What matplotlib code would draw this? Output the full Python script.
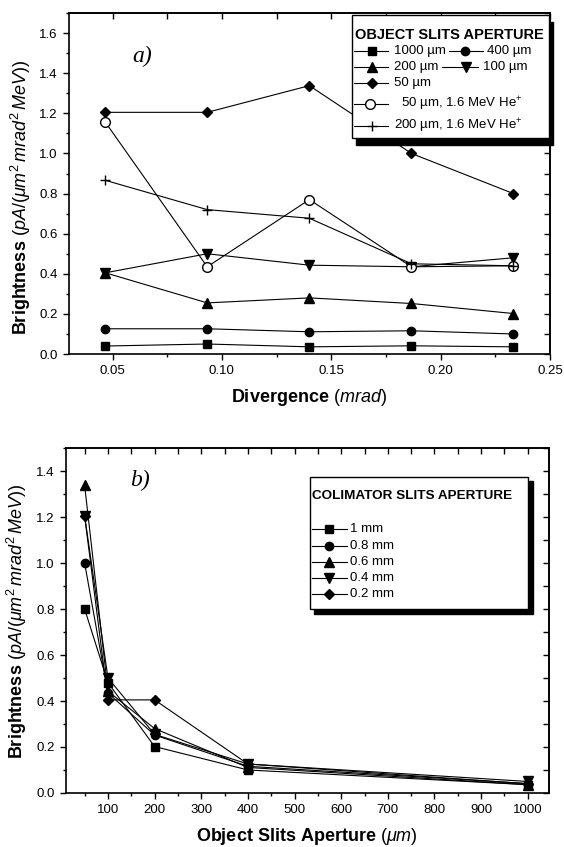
import matplotlib
matplotlib.use("Agg")
import matplotlib.pyplot as plt
from matplotlib.patches import Rectangle
from matplotlib.ticker import MultipleLocator

plt.rcParams['font.family'] = ['Liberation Sans', 'DejaVu Sans']
plt.rcParams['mathtext.fontset'] = 'custom'
plt.rcParams['mathtext.rm'] = 'Liberation Sans'
plt.rcParams['mathtext.it'] = 'Liberation Sans:italic'
plt.rcParams['mathtext.bf'] = 'Liberation Sans:bold'

# panel a) brightness vs divergence, one series per object slit aperture
divergence = [0.0467, 0.0933, 0.14, 0.1867, 0.2333]
a_1000 = [0.040, 0.050, 0.036, 0.041, 0.036]
a_400 = [0.126, 0.126, 0.111, 0.116, 0.100]
a_200 = [0.405, 0.255, 0.280, 0.252, 0.202]
a_100 = [0.405, 0.500, 0.443, 0.435, 0.480]
a_50 = [1.205, 1.205, 1.338, 1.000, 0.800]
a_50_he = [1.156, 0.435, 0.770, 0.435, 0.440]
a_200_he = [0.866, 0.720, 0.677, 0.450, 0.440]

# panel b) brightness vs object slits aperture, one series per colimator slit
aperture = [50, 100, 200, 400, 1000]
b_1mm = [0.800, 0.480, 0.202, 0.100, 0.036]
b_08mm = [1.000, 0.435, 0.252, 0.116, 0.041]
b_06mm = [1.338, 0.443, 0.280, 0.111, 0.036]
b_04mm = [1.205, 0.500, 0.255, 0.126, 0.050]
b_02mm = [1.205, 0.405, 0.405, 0.126, 0.040]

LW = 0.8
LEG_FS = 9.5


def style_axes(ax, xmaj, xmin, ymaj, ymin):
    for s in ax.spines.values():
        s.set_linewidth(1.2)
    ax.xaxis.set_major_locator(MultipleLocator(xmaj))
    ax.xaxis.set_minor_locator(MultipleLocator(xmin))
    ax.yaxis.set_major_locator(MultipleLocator(ymaj))
    ax.yaxis.set_minor_locator(MultipleLocator(ymin))
    ax.tick_params(which='both', direction='out', width=1, labelsize=9.5)
    ax.tick_params(which='major', length=4.5)
    ax.tick_params(which='minor', length=2.5)
    top = ax.secondary_xaxis('top')
    top.xaxis.set_major_locator(MultipleLocator(xmaj))
    top.xaxis.set_minor_locator(MultipleLocator(xmin))
    top.tick_params(which='both', direction='in', length=4, width=1, labeltop=False)
    right = ax.secondary_yaxis('right')
    right.yaxis.set_major_locator(MultipleLocator(ymaj))
    right.yaxis.set_minor_locator(MultipleLocator(ymin))
    right.tick_params(which='both', direction='in', length=4, width=1, labelright=False)
    for s in list(top.spines.values()) + list(right.spines.values()):
        s.set_linewidth(1.2)


def shadow_box(ax, x0, y0, x1, y1, dx, dy):
    ax.add_patch(Rectangle((x0 + dx, y0 - dy), x1 - x0, y1 - y0, transform=ax.transAxes,
                           facecolor='black', edgecolor='black', clip_on=False, zorder=5))
    ax.add_patch(Rectangle((x0, y0), x1 - x0, y1 - y0, transform=ax.transAxes,
                           facecolor='white', edgecolor='black', lw=1, clip_on=False, zorder=6))


def entry(ax, x0, x1, xm, y, xt, label, **mk):
    ax.plot([x0, x1], [y, y], transform=ax.transAxes, color='k', lw=LW, clip_on=False, zorder=7)
    ax.plot([xm], [y], transform=ax.transAxes, color='k', linestyle='none', clip_on=False, zorder=8, **mk)
    ax.text(xt, y, label, transform=ax.transAxes, va='center', ha='left', fontsize=LEG_FS, zorder=8)


fig = plt.figure(figsize=(5.64, 8.47), dpi=100)

# ---------- a) ----------
ax = fig.add_axes([0.122, 0.582, 0.853, 0.4026])
sq = dict(marker='s', ms=5.5, mfc='k', mec='k')
ci = dict(marker='o', ms=6, mfc='k', mec='k')
up = dict(marker='^', ms=6.5, mfc='k', mec='k')
dn = dict(marker='v', ms=6.5, mfc='k', mec='k')
di = dict(marker='D', ms=5, mfc='k', mec='k')
oc = dict(marker='o', ms=7, mfc='white', mec='k', mew=1)
pl = dict(marker='+', ms=7, mec='k', mew=1)

ax.plot(divergence, a_1000, color='k', lw=LW, **sq)
ax.plot(divergence, a_400, color='k', lw=LW, **ci)
ax.plot(divergence, a_200, color='k', lw=LW, **up)
ax.plot(divergence, a_100, color='k', lw=LW, **dn)
ax.plot(divergence, a_50, color='k', lw=LW, **di)
ax.plot(divergence, a_50_he, color='k', lw=LW, **oc)
ax.plot(divergence, a_200_he, color='k', lw=LW, **pl)

ax.set_xlim(0.03, 0.25)
ax.set_ylim(0, 1.7)
style_axes(ax, 0.05, 0.025, 0.2, 0.1)
ax.set_xlabel(r'$\mathbf{Divergence}\ \mathit{(mrad)}$', fontsize=13, labelpad=7)
ax.set_ylabel(r'$\mathbf{Brightness}\ \mathit{(pA/(\mu m^{2}\,mrad^{2}\,MeV))}$', fontsize=13, labelpad=5)
ax.yaxis.set_label_coords(-0.075, 0.46)
ax.text(0.152, 0.874, 'a)', transform=ax.transAxes, fontsize=17, style='italic',
        family='Liberation Serif', ha='center', va='center')

shadow_box(ax, 0.589, 0.633, 0.998, 0.995, 0.0075, 0.02)
ax.text(0.594, 0.937, 'OBJECT SLITS APERTURE', transform=ax.transAxes, fontsize=10.5,
        fontweight='bold', va='center', zorder=8)
entry(ax, 0.592, 0.663, 0.630, 0.889, 0.675, '1000 µm', **sq)
entry(ax, 0.790, 0.860, 0.824, 0.889, 0.870, '400 µm', **ci)
entry(ax, 0.592, 0.663, 0.630, 0.842, 0.675, '200 µm', **up)
entry(ax, 0.775, 0.850, 0.826, 0.842, 0.860, '100 µm', **dn)
entry(ax, 0.592, 0.663, 0.630, 0.795, 0.675, '50 µm', **di)
entry(ax, 0.592, 0.663, 0.626, 0.734, 0.690, r'50 µm, 1.6 MeV He$^{+}$', **oc)
entry(ax, 0.592, 0.663, 0.630, 0.669, 0.675, r'200 µm, 1.6 MeV He$^{+}$', **pl)

# ---------- b) ----------
bx = fig.add_axes([0.117, 0.0638, 0.856, 0.407])
bx.plot(aperture, b_1mm, color='k', lw=LW, **sq)
bx.plot(aperture, b_08mm, color='k', lw=LW, **ci)
bx.plot(aperture, b_06mm, color='k', lw=LW, **up)
bx.plot(aperture, b_04mm, color='k', lw=LW, **dn)
bx.plot(aperture, b_02mm, color='k', lw=LW, **di)

bx.set_xlim(10, 1045)
bx.set_ylim(0, 1.5)
style_axes(bx, 100, 50, 0.2, 0.1)
bx.set_xlabel(r'$\mathbf{Object\ Slits\ Aperture}\ \mathit{(\mu m)}$', fontsize=13, labelpad=7)
bx.set_ylabel(r'$\mathbf{Brightness}\ \mathit{(pA/(\mu m^{2}\,mrad^{2}\,MeV))}$', fontsize=13, labelpad=5)
bx.text(0.153, 0.907, 'b)', transform=bx.transAxes, fontsize=17, style='italic',
        family='Liberation Serif', ha='center', va='center')

shadow_box(bx, 0.505, 0.535, 0.957, 0.918, 0.0097, 0.0145)
bx.text(0.510, 0.860, 'COLIMATOR SLITS APERTURE', transform=bx.transAxes, fontsize=9.7,
        fontweight='bold', va='center', zorder=8)
b_labels = ['1 mm', '0.8 mm', '0.6 mm', '0.4 mm', '0.2 mm']
b_marks = [sq, ci, up, dn, di]
b_rows = [0.766, 0.717, 0.671, 0.624, 0.576]
for lab, mk, yy in zip(b_labels, b_marks, b_rows):
    entry(bx, 0.510, 0.582, 0.545, yy, 0.589, lab, **mk)

fig.savefig('out.png', dpi=100)
